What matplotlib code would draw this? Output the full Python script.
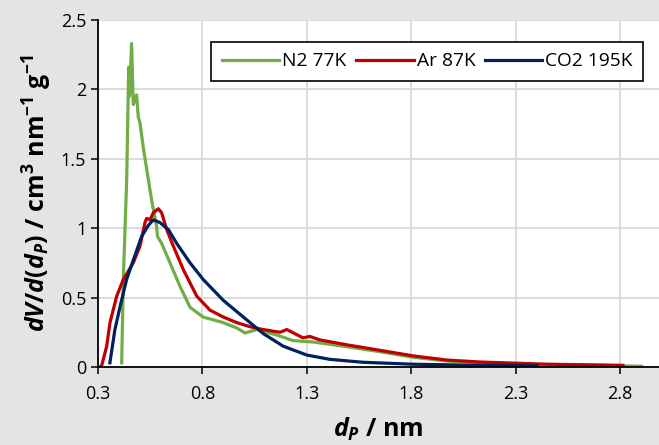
import matplotlib.pyplot as plt

plt.rcParams['font.family'] = ['Open Sans', 'DejaVu Sans']
plt.rcParams['mathtext.fontset'] = 'custom'
plt.rcParams['mathtext.rm'] = 'Open Sans:bold'
plt.rcParams['mathtext.it'] = 'Open Sans:italic:bold'
plt.rcParams['mathtext.bf'] = 'Open Sans:bold'

# pore size distributions, dV/d(dP) vs pore width
n2_x = [0.4135, 0.4212, 0.4375, 0.447, 0.451, 0.461, 0.469, 0.485, 0.493, 0.501,
        0.517, 0.539, 0.557, 0.581, 0.585, 0.605, 0.645, 0.693, 0.741, 0.803,
        0.899, 0.966, 1.004, 1.061, 1.157, 1.234, 1.330, 1.493, 1.651, 1.809,
        1.971, 2.288, 2.766, 2.904]
n2_y = [0.03, 0.63, 1.35, 2.16, 1.95, 2.33, 1.89, 1.96, 1.80, 1.76,
        1.58, 1.37, 1.20, 1.01, 0.94, 0.89, 0.75, 0.58, 0.43, 0.36,
        0.32, 0.28, 0.245, 0.27, 0.23, 0.19, 0.18, 0.146, 0.11, 0.07,
        0.043, 0.02, 0.01, 0.005]

ar_x = [0.3096, 0.3177, 0.3417, 0.3575, 0.3896, 0.4212, 0.469, 0.501, 0.525, 0.533,
        0.549, 0.565, 0.589, 0.605, 0.629, 0.661, 0.709, 0.773, 0.836, 0.900,
        0.964, 1.028, 1.090, 1.172, 1.204, 1.243, 1.282, 1.315, 1.363, 1.491,
        1.651, 1.809, 1.971, 2.129, 2.450, 2.814]
ar_y = [0.0, 0.01, 0.15, 0.32, 0.51, 0.63, 0.75, 0.87, 1.04, 1.07,
        1.06, 1.11, 1.14, 1.11, 0.99, 0.87, 0.70, 0.51, 0.41, 0.36,
        0.32, 0.29, 0.27, 0.25, 0.27, 0.24, 0.21, 0.22, 0.195, 0.16,
        0.12, 0.08, 0.05, 0.036, 0.02, 0.012]

co2_x = [0.357, 0.381, 0.405, 0.437, 0.469, 0.509, 0.541, 0.565, 0.597, 0.637,
         0.677, 0.741, 0.804, 0.900, 0.996, 1.092, 1.187, 1.300, 1.411, 1.569,
         1.809, 2.129, 2.401]
co2_y = [0.03, 0.27, 0.43, 0.63, 0.77, 0.94, 1.02, 1.06, 1.04, 0.99,
         0.89, 0.75, 0.63, 0.48, 0.36, 0.24, 0.15, 0.086, 0.055, 0.034,
         0.02, 0.012, 0.009]

x_ticks = [0.3, 0.8, 1.3, 1.8, 2.3, 2.8]
y_ticks = [0, 0.5, 1, 1.5, 2, 2.5]
y_tick_labels = ['0', '0.5', '1', '1.5', '2', '2.5']

fig = plt.figure(figsize=(6.59, 4.45), dpi=100, facecolor='#e4e4e4')
ax = fig.add_axes([0.1487, 0.1753, 0.8513, 0.78])
ax.set_facecolor('white')

ax.plot(n2_x, n2_y, color='#70ad47', lw=2.3, label='N2 77K', solid_joinstyle='round')
ax.plot(ar_x, ar_y, color='#c00000', lw=2.3, label='Ar 87K', solid_joinstyle='round')
ax.plot(co2_x, co2_y, color='#002060', lw=2.3, label='CO2 195K', solid_joinstyle='round')

ax.set_xlim(0.3, 2.987)
ax.set_ylim(0, 2.5)
ax.set_xticks(x_ticks)
ax.set_xticklabels([f'{t:.1f}' for t in x_ticks])
ax.set_yticks(y_ticks)
ax.set_yticklabels(y_tick_labels)
ax.grid(True, color='#d9d9d9', lw=1.3)
ax.set_axisbelow(True)

for side in ['top', 'right']:
    ax.spines[side].set_visible(False)
for side in ['left', 'bottom']:
    ax.spines[side].set_color('black')
    ax.spines[side].set_linewidth(1.3)
ax.tick_params(direction='out', length=5, width=1.1, labelsize=13, colors='black')
ax.tick_params(axis='x', pad=8)

ax.set_xlabel(r'$d_P$ / nm', fontsize=18, fontweight='bold', labelpad=9)
ax.set_ylabel(r'$dV/d(d_P)$ / cm$^3$ nm$^{-1}$ g$^{-1}$', fontsize=18,
              fontweight='bold', labelpad=5)

leg = ax.legend(loc='upper right', bbox_to_anchor=(0.972, 0.937), ncol=3,
                fontsize=13.8, frameon=True, fancybox=False, framealpha=1,
                edgecolor='black', handlelength=3.0, handletextpad=0.15,
                columnspacing=0.5, borderpad=0.55, borderaxespad=0)
leg.get_frame().set_linewidth(1.2)

fig.savefig('out.png', dpi=100, facecolor=fig.get_facecolor())
